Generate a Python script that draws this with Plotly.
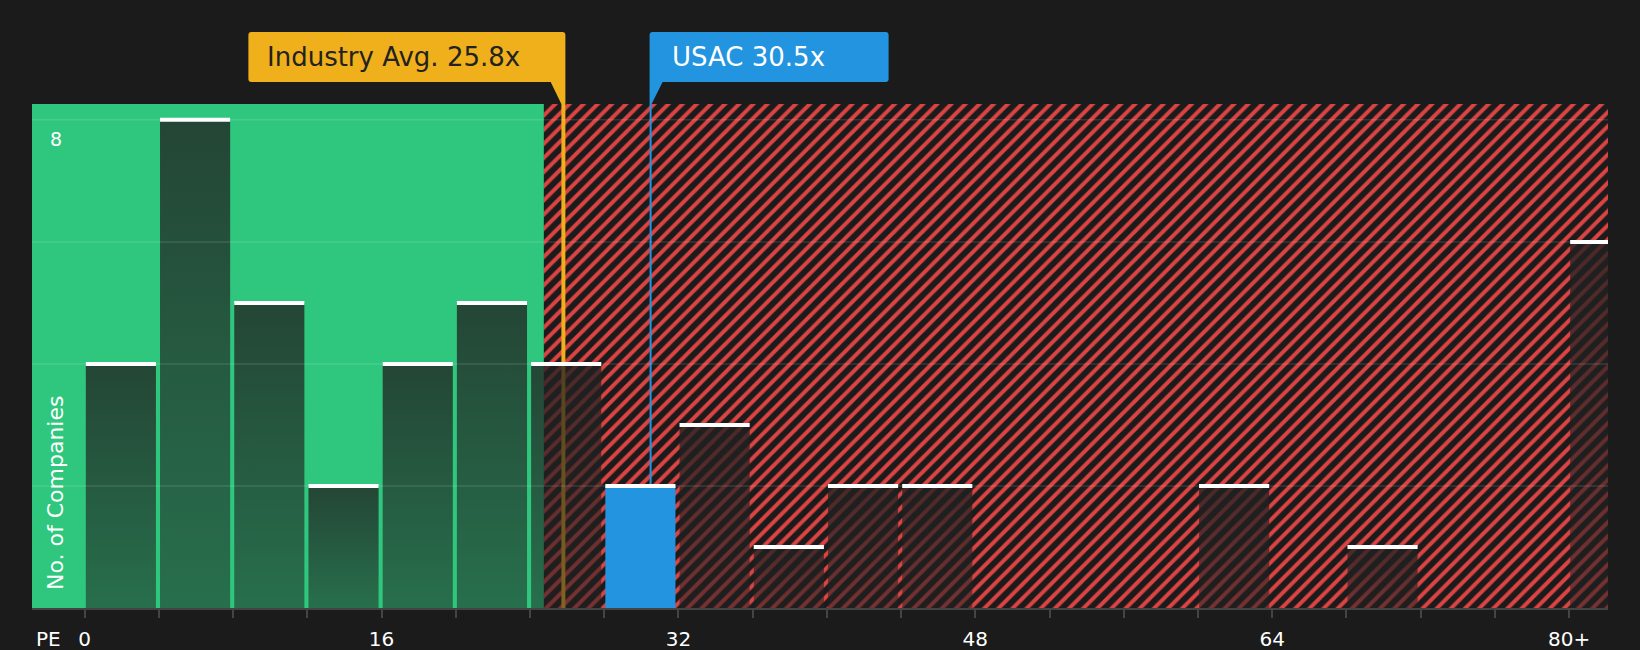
import plotly.graph_objects as go

# PE ratio histogram, bins 4x wide, last bin is "80+"
bin_starts = [0, 4, 8, 12, 16, 20, 24, 28, 32, 36, 40, 44, 48, 52, 56, 60, 64, 68, 72, 76, 80]
counts = [4, 8, 5, 2, 4, 5, 4, 2, 3, 1, 2, 2, 0, 0, 0, 2, 0, 1, 0, 0, 6]
bin_width = 4

tick_vals = [0, 4, 8, 12, 16, 20, 24, 28, 32, 36, 40, 44, 48, 52, 56, 60, 64, 68, 72, 76, 80]
tick_text = ['0', '', '', '', '16', '', '', '', '32', '', '', '', '48', '', '', '', '64', '', '', '', '80+']
grid_vals = [2, 4, 6, 8]

industry_avg = 25.8
company = 'USAC'
company_pe = 30.5
green_zone_end = 24.75

x_range = [-2.84, 82.1]
y_range = [0, 8.26]

BG = '#1b1b1b'
GREEN = '#2ec77d'
RED = '#dc4343'
ORANGE = '#f0b01b'
BLUE = '#2394df'
FONT = 'DejaVu Sans'

fig = go.Figure()

# good / bad zones
fig.add_trace(go.Bar(x=[(x_range[0] - 5 + green_zone_end) / 2], y=[y_range[1] + 2],
                     width=[green_zone_end - x_range[0] + 5],
                     marker=dict(color=GREEN, line=dict(width=0))))
fig.add_trace(go.Bar(x=[(green_zone_end + x_range[1] + 10) / 2], y=[y_range[1] + 2],
                     width=[x_range[1] + 10 - green_zone_end],
                     marker=dict(color=BG, line=dict(width=0),
                                 pattern=dict(shape='/', fgcolor=RED, bgcolor=BG, fgopacity=1,
                                              size=10, solidity=0.4))))

# reference lines
fig.add_trace(go.Scatter(x=[industry_avg, industry_avg], y=[0, y_range[1]], mode='lines',
                         line=dict(color=ORANGE, width=4)))
fig.add_trace(go.Scatter(x=[company_pe, company_pe], y=[0, y_range[1]], mode='lines',
                         line=dict(color=BLUE, width=2)))

# histogram bars
top_x, top_y = [], []
for x0, c in zip(bin_starts, counts):
    if c == 0:
        continue
    left = x0 + 0.06
    right = x0 + bin_width - 0.16
    xs = [left, left, right, right, left]
    ys = [0, c, c, 0, 0]
    if x0 <= company_pe < x0 + bin_width:
        fig.add_trace(go.Scatter(x=xs, y=ys, fill='toself', fillcolor=BLUE, mode='none'))
    else:
        fig.add_trace(go.Scatter(x=xs, y=ys, fill='toself', mode='none',
                                 fillgradient=dict(type='vertical',
                                                   colorscale=[[0, 'rgba(33,33,33,0.53)'],
                                                               [1, 'rgba(33,33,33,0.78)']])))
    top_x += [left, right, None]
    top_y += [c, c, None]
fig.add_trace(go.Scatter(x=top_x, y=top_y, mode='lines', line=dict(color='white', width=4)))

shapes = []
for g in grid_vals:
    shapes.append(dict(type='line', xref='paper', x0=0, x1=1, yref='y', y0=g, y1=g,
                       line=dict(color='rgba(255,255,255,0.12)', width=1.5), layer='above'))

# callout boxes (pixel paths anchored at the line, tip on the plot top)
shapes.append(dict(type='path', xref='x', yref='paper', xsizemode='pixel', ysizemode='pixel',
                   xanchor=industry_avg, yanchor=1,
                   path='M -312,72 H -1 Q 2,72 2,69 V 0 H -2 L -12.7,22 H -312 Q -315,22 -315,25 V 69 Q -315,72 -312,72 Z',
                   fillcolor=ORANGE, line=dict(width=0), layer='above'))
shapes.append(dict(type='path', xref='x', yref='paper', xsizemode='pixel', ysizemode='pixel',
                   xanchor=company_pe, yanchor=1,
                   path='M 2,72 H 235 Q 238,72 238,69 V 25 Q 238,22 235,22 H 12 L 1,0 H -1 V 69 Q -1,72 2,72 Z',
                   fillcolor=BLUE, line=dict(width=0), layer='above'))

annotations = [
    dict(text=f'Industry Avg. {industry_avg}x', xref='x', x=industry_avg, yref='paper', y=1,
         xanchor='left', yanchor='middle', xshift=-298, yshift=47, showarrow=False,
         font=dict(family=FONT, size=26, color='#222222')),
    dict(text=f'{company} {company_pe}x', xref='x', x=company_pe, yref='paper', y=1,
         xanchor='left', yanchor='middle', xshift=19, yshift=47, showarrow=False,
         font=dict(family=FONT, size=26, color='white')),
    dict(text='8', xref='paper', x=0, yref='y', y=8, xanchor='center', yanchor='top',
         xshift=24, yshift=-6, showarrow=False, font=dict(family=FONT, size=19, color='white')),
    dict(text='No. of Companies', xref='paper', x=0, yref='paper', y=0, textangle=-90,
         xanchor='center', yanchor='bottom', xshift=23, yshift=16, showarrow=False,
         font=dict(family=FONT, size=22, color='white')),
    dict(text='PE', xref='paper', x=0, yref='paper', y=0, xanchor='center', yanchor='middle',
         xshift=16, yshift=-31, showarrow=False, font=dict(family=FONT, size=20, color='white')),
]

fig.update_layout(
    width=1640, height=650,
    margin=dict(l=32, r=32, t=104, b=42),
    paper_bgcolor=BG, plot_bgcolor=BG,
    showlegend=False, hovermode=False, barmode='overlay',
    shapes=shapes, annotations=annotations,
    font=dict(family=FONT, color='white', size=20),
    xaxis=dict(range=x_range, tickvals=tick_vals, ticktext=tick_text, showgrid=False,
               zeroline=False, showline=True, linecolor='#444444', linewidth=2,
               ticks='outside', ticklen=8, tickwidth=2, tickcolor='#444444',
               tickfont=dict(family=FONT, size=20, color='white'), ticklabelstandoff=4,
               automargin=False, fixedrange=True),
    yaxis=dict(range=y_range, showgrid=False, zeroline=False, showticklabels=False,
               automargin=False, fixedrange=True),
)

fig.write_html("out.html", config={'displayModeBar': False},
               post_script="document.body.style.margin='0';")
